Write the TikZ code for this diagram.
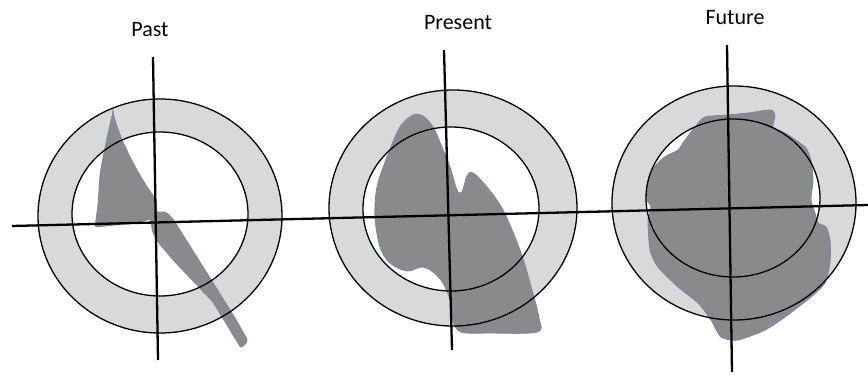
\documentclass[tikz,border=0pt]{standalone}
\usepackage{fontspec}
\setmainfont{Carlito}
\usepackage{xcolor}
\usepackage{tikz}
\usetikzlibrary{positioning, calc}

\definecolor{ringgray}{HTML}{D9D9D9}
\definecolor{blobgray}{HTML}{8A8A8D}
\definecolor{blobedge}{HTML}{7A88A8}

\tikzset{
  ring/.style={draw=black, line width=1.3pt},
  blob/.style={fill=blobgray, draw=blobedge, line width=0.8pt},
  axis/.style={draw=black, line width=2.3pt},
  title/.style={font=\fontsize{22}{26}\selectfont}
}

\begin{document}
\begin{tikzpicture}[x=1pt, y=-1pt]
        \useasboundingbox (0,0) rectangle (868,386);

        % Titles
        \node[title] (past) at (150,30) {Past};
        \node[title] (present) at (458,23) {Present};
        \node[title] (future) at (735,18) {Future};

        % Past
        \fill[ringgray] (160,216) ellipse [x radius=122, y radius=117];
        \fill[white] (160,214) ellipse [x radius=88, y radius=82];
        \filldraw[blob, rounded corners=2pt] (113,112) .. controls (118,135) and (135,170) .. (154,197)
          -- (157,205) -- (156,212) -- (166,212) -- (173,219) -- (205,270) -- (235,318)
          -- (248,341) -- (241,348) -- (213,302) -- (175,262) -- (157,241) -- (152,230)
          -- (151,219) -- (135,223) -- (95,227) -- (98,205) -- (100,175)
          .. controls (104,150) and (110,125) .. cycle;
        \draw[ring] (160,216) ellipse [x radius=122, y radius=117];
        \draw[ring] (160,214) ellipse [x radius=88, y radius=82];

        % Present
        \fill[ringgray] (453,208) ellipse [x radius=124, y radius=118];
        \fill[white] (451,209) ellipse [x radius=88, y radius=82];
        \filldraw[blob] plot[smooth cycle, tension=0.55] coordinates {
          (413,115) (400,127) (387,157) (377,187) (375,217) (380,247) (390,263)
          (407,271) (422,267) (433,272) (443,283) (450,300) (453,320) (461,332)
          (490,333) (537,332) (539,318) (530,283) (520,250) (503,210) (487,187)
          (473,173) (467,176) (462,192) (457,190) (450,167) (442,147) (433,127) (423,116)};
        \draw[ring] (453,208) ellipse [x radius=124, y radius=118];
        \draw[ring] (451,209) ellipse [x radius=88, y radius=82];

        % Future
        \fill[ringgray] (734,203) ellipse [x radius=122, y radius=117];
        \fill[white] (733,198) ellipse [x radius=87, y radius=79];
        \filldraw[blob] plot[smooth cycle, tension=0.4] coordinates {
          (705,117) (728,115) (748,113) (771,110) (775,116) (773,127) (785,133)
          (805,147) (811,160) (813,180) (811,200) (815,213) (818,223) (826,227)
          (830,240) (830,263) (825,283) (811,297) (785,317) (765,330) (738,340)
          (721,337) (711,320) (698,303) (678,287) (658,267) (650,250) (648,220)
          (651,207) (646,197) (650,173) (661,160) (668,155) (678,150) (685,140) (695,127)};
        \draw[ring] (734,203) ellipse [x radius=122, y radius=117];
        \draw[ring] (733,198) ellipse [x radius=87, y radius=79];

        % Axes
        \coordinate (hleft) at (12,226);
        \coordinate (hright) at (868,205);
        \coordinate (pasttop) at (153,57);
        \coordinate (pastbot) at (158,360);
        \coordinate (prestop) at (444,50);
        \coordinate (presbot) at (452,350);
        \coordinate (futtop) at (727,45);
        \coordinate (futbot) at (732,372);

        \draw[axis] (hleft) -- (hright);
        \draw[axis] (pasttop) -- (pastbot);
        \draw[axis] (prestop) -- (presbot);
        \draw[axis] (futtop) -- (futbot);
\end{tikzpicture}
\end{document}
